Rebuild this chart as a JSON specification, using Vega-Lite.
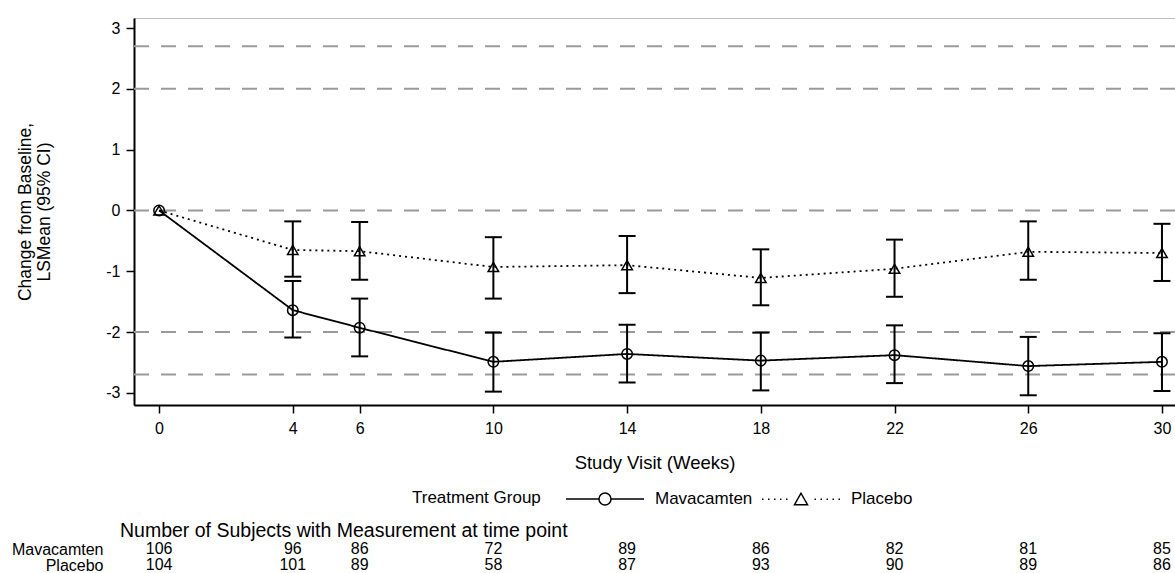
{
  "$schema": "https://vega.github.io/schema/vega-lite/v6.json",
  "padding": {"left": 11, "top": 17, "right": 0, "bottom": 0},
  "config": {"font": "Liberation Sans"},
  "datasets": {
    "refs": [{"ref": 2.7}, {"ref": 2}, {"ref": 0}, {"ref": -2}, {"ref": -2.7}],
    "lsm": [
      {"group": "Mavacamten", "week": 0, "est": 0, "lo": null, "hi": null},
      {"group": "Mavacamten", "week": 4, "est": -1.64, "lo": -2.09, "hi": -1.16},
      {"group": "Mavacamten", "week": 6, "est": -1.93, "lo": -2.40, "hi": -1.45},
      {"group": "Mavacamten", "week": 10, "est": -2.49, "lo": -2.98, "hi": -2.01},
      {"group": "Mavacamten", "week": 14, "est": -2.36, "lo": -2.83, "hi": -1.88},
      {"group": "Mavacamten", "week": 18, "est": -2.47, "lo": -2.96, "hi": -2.01},
      {"group": "Mavacamten", "week": 22, "est": -2.38, "lo": -2.84, "hi": -1.89},
      {"group": "Mavacamten", "week": 26, "est": -2.56, "lo": -3.04, "hi": -2.08},
      {"group": "Mavacamten", "week": 30, "est": -2.49, "lo": -2.97, "hi": -2.02},
      {"group": "Placebo", "week": 0, "est": 0, "lo": null, "hi": null},
      {"group": "Placebo", "week": 4, "est": -0.65, "lo": -1.09, "hi": -0.18},
      {"group": "Placebo", "week": 6, "est": -0.67, "lo": -1.14, "hi": -0.19},
      {"group": "Placebo", "week": 10, "est": -0.93, "lo": -1.45, "hi": -0.44},
      {"group": "Placebo", "week": 14, "est": -0.90, "lo": -1.36, "hi": -0.42},
      {"group": "Placebo", "week": 18, "est": -1.11, "lo": -1.56, "hi": -0.64},
      {"group": "Placebo", "week": 22, "est": -0.96, "lo": -1.42, "hi": -0.48},
      {"group": "Placebo", "week": 26, "est": -0.68, "lo": -1.14, "hi": -0.18},
      {"group": "Placebo", "week": 30, "est": -0.70, "lo": -1.16, "hi": -0.22}
    ],
    "counts": [
      {"group": "Mavacamten", "week": 0, "n": 106},
      {"group": "Mavacamten", "week": 4, "n": 96},
      {"group": "Mavacamten", "week": 6, "n": 86},
      {"group": "Mavacamten", "week": 10, "n": 72},
      {"group": "Mavacamten", "week": 14, "n": 89},
      {"group": "Mavacamten", "week": 18, "n": 86},
      {"group": "Mavacamten", "week": 22, "n": 82},
      {"group": "Mavacamten", "week": 26, "n": 81},
      {"group": "Mavacamten", "week": 30, "n": 85},
      {"group": "Placebo", "week": 0, "n": 104},
      {"group": "Placebo", "week": 4, "n": 101},
      {"group": "Placebo", "week": 6, "n": 89},
      {"group": "Placebo", "week": 10, "n": 58},
      {"group": "Placebo", "week": 14, "n": 87},
      {"group": "Placebo", "week": 18, "n": 93},
      {"group": "Placebo", "week": 22, "n": 90},
      {"group": "Placebo", "week": 26, "n": 89},
      {"group": "Placebo", "week": 30, "n": 86}
    ]
  },
  "resolve": {"scale": {"shape": "independent", "strokeDash": "independent"}, "legend": {"shape": "independent", "strokeDash": "independent"}},
  "spacing": 11,
  "vconcat": [
    {
      "width": 1041,
      "height": 387,
      "view": {"stroke": "#777777", "strokeDash": [1, 1], "strokeWidth": 1},
      "resolve": {"scale": {"shape": "independent"}, "legend": {"shape": "independent"}},
      "layer": [
        {
          "data": {"name": "refs"},
          "mark": {"type": "rule", "color": "#9a9a9a", "strokeWidth": 2, "strokeDash": [15, 12]},
          "encoding": {
            "y": {
              "field": "ref", "type": "quantitative",
              "scale": {"domain": [-3.2, 3.165], "nice": false, "zero": false},
              "axis": {
                "title": ["Change from Baseline,", "LSMean (95% CI)"],
                "values": [-3, -2, -1, 0, 1, 2, 3],
                "labelExpr": "'' + datum.value",
                "grid": false,
                "domainColor": "black", "domainWidth": 2,
                "tickColor": "black", "tickSize": 8, "tickWidth": 1.5,
                "labelFontSize": 16, "labelColor": "black", "labelPadding": 6,
                "titleFontSize": 17.5, "titleFontWeight": "normal", "titleColor": "black",
                "titlePadding": 52, "titleLineHeight": 19
              }
            }
          }
        },
        {
          "data": {"name": "lsm"},
          "mark": {"type": "rule", "color": "black", "strokeWidth": 2},
          "encoding": {
            "x": {
              "field": "week", "type": "quantitative",
              "scale": {"domain": [-0.75, 30.39], "nice": false, "zero": false},
              "axis": {
                "title": "Study Visit (Weeks)",
                "values": [0, 4, 6, 10, 14, 18, 22, 26, 30],
                "grid": false,
                "domainColor": "black", "domainWidth": 2,
                "tickColor": "black", "tickSize": 8, "tickWidth": 1.5,
                "labelFontSize": 16, "labelColor": "black", "labelPadding": 7,
                "titleFontSize": 18.5, "titleFontWeight": "normal", "titleColor": "black",
                "titlePadding": 17
              }
            },
            "y": {"field": "lo", "type": "quantitative"},
            "y2": {"field": "hi"}
          }
        },
        {
          "data": {"name": "lsm"},
          "mark": {"type": "point", "shape": "M-1,0L1,0", "size": 289, "color": "black", "strokeWidth": 2, "filled": false, "opacity": 1},
          "encoding": {
            "x": {"field": "week", "type": "quantitative"},
            "y": {"field": "lo", "type": "quantitative"}
          }
        },
        {
          "data": {"name": "lsm"},
          "mark": {"type": "point", "shape": "M-1,0L1,0", "size": 289, "color": "black", "strokeWidth": 2, "filled": false, "opacity": 1},
          "encoding": {
            "x": {"field": "week", "type": "quantitative"},
            "y": {"field": "hi", "type": "quantitative"}
          }
        },
        {
          "data": {"name": "lsm"},
          "mark": {"type": "line", "color": "black", "strokeWidth": 1.8},
          "encoding": {
            "x": {"field": "week", "type": "quantitative"},
            "y": {"field": "est", "type": "quantitative"},
            "strokeDash": {
              "field": "group", "type": "nominal",
              "scale": {"domain": ["Mavacamten", "Placebo"], "range": [[1, 0], [2, 4]]},
              "legend": null
            }
          }
        },
        {
          "data": {"name": "lsm"},
          "mark": {"type": "point", "filled": false, "color": "black", "strokeWidth": 1.5, "size": 110, "opacity": 1},
          "encoding": {
            "x": {"field": "week", "type": "quantitative"},
            "y": {"field": "est", "type": "quantitative"},
            "shape": {
              "field": "group", "type": "nominal",
              "scale": {"domain": ["Mavacamten", "Placebo"], "range": ["circle", "triangle-up"]},
              "legend": null
            }
          }
        },
        {
          "data": {"name": "lsm"},
          "transform": [{"filter": "datum.week < 0"}],
          "mark": {"type": "point", "filled": false, "color": "black", "strokeWidth": 1.5, "opacity": 1},
          "encoding": {
            "x": {"field": "week", "type": "quantitative"},
            "y": {"field": "est", "type": "quantitative"},
            "shape": {
              "field": "group", "type": "nominal",
              "scale": {
                "domain": ["Mavacamten", "Placebo"],
                "range": [
                  "M-3.9,0L-0.6,0M0.6,0L3.9,0M0.6,0A0.6,0.6,0,1,1,-0.6,0A0.6,0.6,0,1,1,0.6,0",
                  "M-3.9,0L-3.75,0M-3.3,0L-3.15,0M-2.7,0L-2.55,0M-2.1,0L-1.95,0M-1.5,0L-1.35,0M1.35,0L1.5,0M1.95,0L2.1,0M2.55,0L2.7,0M3.15,0L3.3,0M3.75,0L3.9,0M0,-0.6L0.65,0.55L-0.65,0.55Z"
                ]
              },
              "legend": {
                "title": "Treatment Group",
                "orient": "none",
                "legendX": 278,
                "legendY": 470,
                "direction": "horizontal",
                "titleOrient": "left",
                "titleFontSize": 17, "titleFontWeight": "normal", "titleColor": "black",
                "labelFontSize": 17, "labelColor": "black",
                "symbolSize": 400,
                "symbolStrokeWidth": 1.5,
                "symbolStrokeColor": "black",
                "symbolFillColor": "transparent",
                "labelOffset": 39,
                "titlePadding": 53,
                "columnPadding": 6
              }
            }
          }
        }
      ]
    },
    {
      "data": {"name": "counts"},
      "width": 1041,
      "height": 32,
      "view": {"stroke": null},
      "title": {
        "text": "Number of Subjects with Measurement at time point",
        "anchor": "start", "frame": "group",
        "fontSize": 19.5, "fontWeight": "normal", "color": "black",
        "offset": 0, "dx": -14
      },
      "mark": {"type": "text", "fontSize": 16, "color": "black"},
      "encoding": {
        "x": {
          "field": "week", "type": "quantitative",
          "scale": {"domain": [-0.75, 30.39], "nice": false, "zero": false},
          "axis": null
        },
        "y": {
          "field": "group", "type": "nominal",
          "scale": {"domain": ["Mavacamten", "Placebo"]},
          "axis": {"title": null, "domain": false, "ticks": false, "labelFontSize": 16, "labelColor": "black", "labelPadding": 31}
        },
        "text": {"field": "n", "type": "quantitative"}
      }
    }
  ]
}
